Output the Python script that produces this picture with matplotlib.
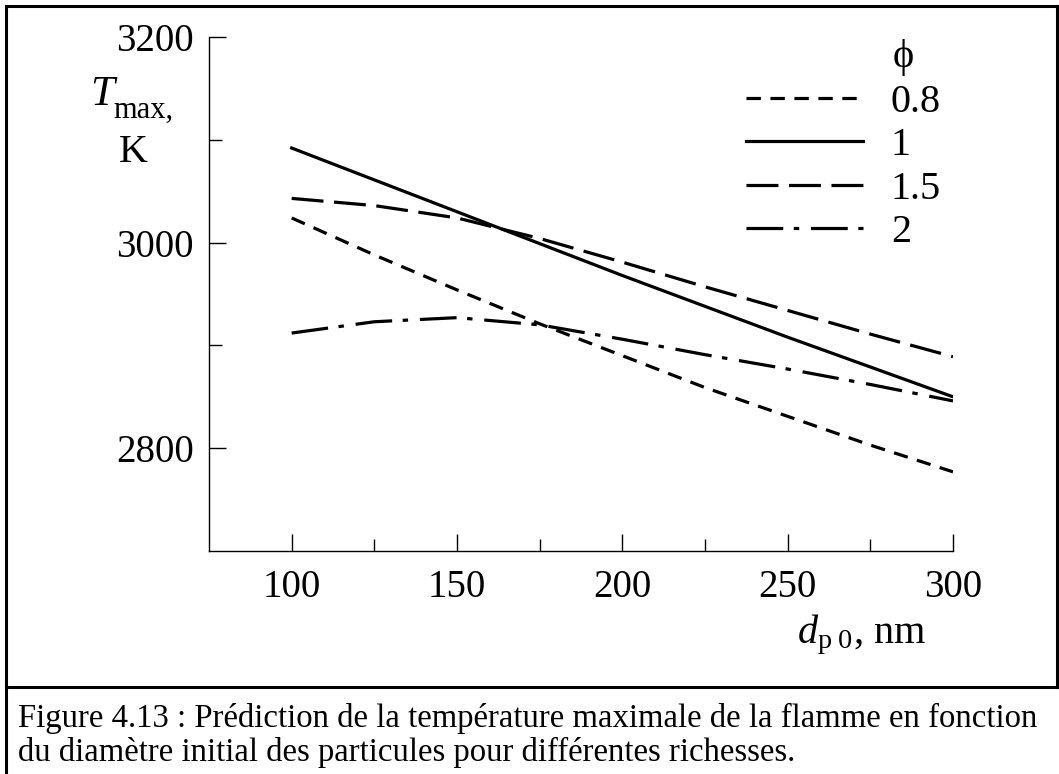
import matplotlib
matplotlib.use('Agg')
import matplotlib.pyplot as plt
from matplotlib.lines import Line2D

plt.rcParams['font.family'] = ['Liberation Serif', 'DejaVu Serif']
plt.rcParams['mathtext.fontset'] = 'custom'
plt.rcParams['mathtext.rm'] = 'Liberation Serif'
plt.rcParams['mathtext.it'] = 'Liberation Serif:italic'

# data
d_p0 = [100, 125, 150, 175, 200, 225, 250, 275, 300]
t_phi_08 = [3024, 2988, 2954, 2921, 2890, 2859, 2831, 2803, 2777]
t_phi_1 = [3092, 3061, 3030, 2999, 2968, 2938, 2908, 2879, 2850]
t_phi_15 = [3043, 3036, 3024, 3004, 2981, 2957, 2934, 2911, 2889]
t_phi_2 = [2912, 2923, 2927, 2920, 2906, 2891, 2877, 2862, 2846]
phi_labels = ['0.8', '1', '1.5', '2']
y_ticks = [2800, 3000, 3200]
x_ticks = [100, 150, 200, 250, 300]

W, H = 1059, 774
fig = plt.figure(figsize=(W / 100, H / 100), dpi=100)

def px(x, y):
    # pixel (from top-left) -> figure fraction
    return x / W, 1 - y / H

x0, y0 = px(209, 551)
x1, y1 = px(953, 37)
ax = fig.add_axes([x0, y0, x1 - x0, y1 - y0])

lw = 2.3
styles = [
    dict(dashes=(4.5, 3.0)),
    dict(linestyle='-'),
    dict(dashes=(10, 3.3)),
    dict(dashes=(11.5, 3.3, 1.7, 3.7)),
]
series = [t_phi_08, t_phi_1, t_phi_15, t_phi_2]
for vals, st in zip(series, styles):
    ax.plot(d_p0, vals, color='black', lw=lw, **st)

ax.set_xlim(75, 300)
ax.set_ylim(2700, 3200)
for s in ['top', 'right']:
    ax.spines[s].set_visible(False)
for s in ['left', 'bottom']:
    ax.spines[s].set_linewidth(1.0)

ax.set_xticks(x_ticks)
ax.set_xticks([125, 175, 225, 275], minor=True)
ax.set_yticks(y_ticks)
ax.set_yticks([2900, 3100], minor=True)
ax.tick_params(which='major', direction='in', length=12, width=1.0,
               labelsize=28, pad=13)
ax.tick_params(which='minor', direction='in', length=9, width=1.0)
ax.tick_params(axis='y', which='major', pad=11)

# axis labels
tx, ty = px(90, 105)
fig.text(tx, ty, 'T', fontsize=31, style='italic', ha='left', va='baseline')
mx, my = px(113, 118)
fig.text(mx, my, 'max,', fontsize=22, ha='left', va='baseline')
kx, ky = px(133, 162)
fig.text(kx, ky, 'K', fontsize=29, ha='center', va='baseline')
dx, dy = px(797, 643)
fig.text(dx, dy, r'$d_{\mathrm{p\ 0}}$, nm', fontsize=29, ha='left', va='baseline')

# legend
handles = [Line2D([], [], color='black', lw=lw, **st) for st in styles]
lx, ly = px(746, 84)
leg = ax.legend(handles, phi_labels, loc='upper left', bbox_to_anchor=(lx, ly),
                bbox_transform=fig.transFigure, frameon=False, fontsize=29,
                handlelength=2.9, handletextpad=0.7, labelspacing=0.15,
                borderpad=0, borderaxespad=0)
fx, fy = px(893, 57)
fig.text(fx, fy, 'ϕ', fontsize=29, ha='left', va='center')

# frame and caption box
border = dict(color='black', lw=2.2, transform=fig.transFigure, clip_on=False)
fig.add_artist(Line2D([6 / W, 6 / W], [0, 1 - 6 / H], **border))
fig.add_artist(Line2D([6 / W, 1], [1 - 6 / H, 1 - 6 / H], **border))
fig.add_artist(Line2D([1057 / W, 1057 / W], [1 - 687 / H, 1 - 6 / H], **border))
fig.add_artist(Line2D([6 / W, 1], [1 - 687 / H, 1 - 687 / H], **border))

cap1 = "Figure 4.13 : Prédiction de la température maximale de la flamme en fonction"
cap2 = "du diamètre initial des particules pour différentes richesses."
c1x, c1y = px(18, 727)
c2x, c2y = px(18, 761)
t1 = fig.text(c1x, c1y, cap1, fontsize=24, ha='left', va='baseline')
t2 = fig.text(c2x, c2y, cap2, fontsize=24, ha='left', va='baseline')

# fit the first caption line to the width seen in the reference
fig.canvas.draw()
w = t1.get_window_extent().width
fs = 24 * 1022 / w
t1.set_fontsize(fs)
t2.set_fontsize(fs)

fig.savefig('out.png', dpi=100)
